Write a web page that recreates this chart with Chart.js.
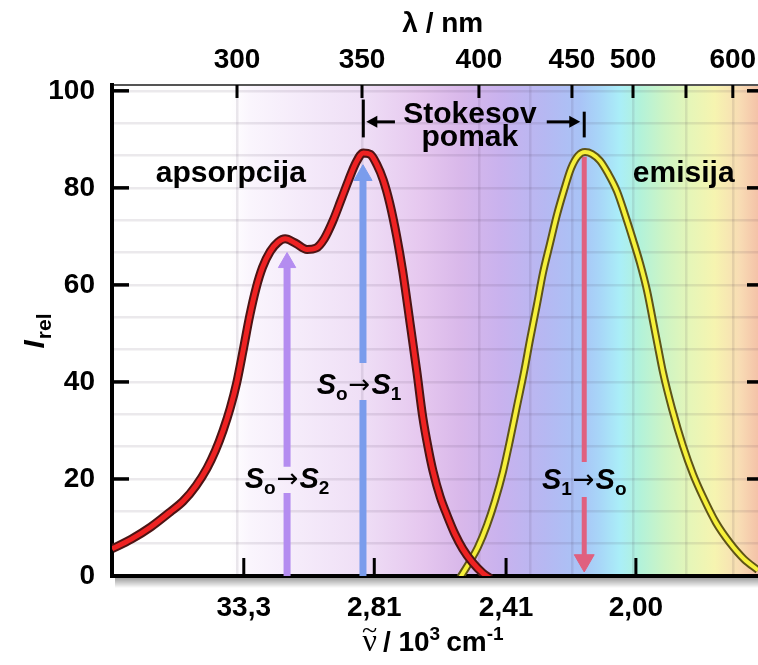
<!DOCTYPE html>
<html><head><meta charset="utf-8">
<script src="https://cdn.jsdelivr.net/npm/chart.js@4.4.1/dist/chart.umd.min.js"></script>
<style>html,body{margin:0;padding:0;background:#fff;}#wrap{width:758px;height:665px;}</style>
</head><body><div id="wrap"><canvas id="c" width="758" height="665"></canvas></div>
<script>
// ---- data (x in relative spectral position units, y = I_rel) ----
const absX = [0, 3, 6, 9, 11, 13, 14.7, 16, 17.2, 18.3, 19.3, 20.3, 21.3, 22.3, 23.3, 24.5, 25.7, 26.8, 28.4, 30.2, 31.6, 32.9, 34.2, 35.4, 36.6, 37.8, 38.9, 40.0, 41.0, 42.0, 43.0, 44.1, 45.0, 46.1, 47.2, 48.1, 49.0, 49.7, 50.8, 51.9, 53.1, 54.3, 55.8, 57.4, 58.6];
const absY = [5.6, 7.6, 10.1, 13.2, 15.4, 18.6, 22.2, 25.8, 30.0, 34.6, 39.8, 46.5, 53.5, 59.3, 63.6, 66.9, 68.8, 69.5, 68.6, 67.3, 67.6, 69.6, 73.2, 77.3, 81.5, 85.3, 87.2, 86.9, 84.8, 81.6, 76.8, 69.8, 62.8, 52.5, 42.0, 32.8, 26.0, 21.6, 16.3, 12.4, 8.6, 5.6, 2.8, 0.6, -0.5];
const emiX = [53.9, 55.42, 56.66, 58.05, 59.29, 60.53, 61.61, 62.69, 63.78, 64.71, 65.79, 66.72, 67.80, 68.89, 69.97, 71.05, 72.14, 73.22, 74.30, 75.54, 76.78, 78.17, 79.41, 80.65, 81.73, 82.82, 83.75, 84.52, 85.29, 86.69, 88.39, 89.94, 91.49, 93.50, 95.67, 97.83, 100];
const emiY = [-0.3, 3.0, 6.0, 10.5, 15.5, 21.5, 28, 35, 42, 48.7, 56, 62.5, 68.5, 74.5, 79.5, 84, 86.6, 87.4, 87, 85.6, 83, 79.3, 74.5, 69.3, 64.5, 58.8, 52.5, 47.2, 42, 34.5, 26.8, 21, 16.3, 11, 6.8, 3.5, 1.2];

const yTickValues = [0, 20, 40, 60, 80, 100];
const topTickValues = [19.35, 38.7, 56.8, 71.2, 80.65, 88.85, 96.1];
const topTickLabels = ['300', '350', '400', '450', '500', '', '600'];
const extraGridX = [64.7];
const bottomTickValues = [20.4, 40.6, 61.0, 81.1];
const bottomTickLabels = ['33,3', '2,81', '2,41', '2,00'];

// transitions (arrows)
const transitionNames = ['S0→S2', 'S0→S1', 'S1→S0'];
const arrowX = [27.1, 38.85, 73.1];
const arrowStart = [0, 0, 86.4];
const arrowGapA = [17.1, 36.3, 23.5];
const arrowGapB = [22.5, 43.9, 16.3];
const arrowHead = [64.6, 82.6, 3.2];

// ---- styling ----
const FAM = '"Liberation Sans", Arial, sans-serif';
const arrowColors = ['#b48cf0', '#7a9cec', '#e0607f'];
const arrowWidths = [7, 7, 5];
const headRadius = [10, 10.5, 11.5];
const headRotation = [0, 0, 180];
const spectrumStops = [[0,'#ffffff'],[18.3,'#ffffff'],[21.4,'#faf5fd'],[29.1,'#f5ebfa'],[38.7,'#efdff6'],[47.7,'#e6c8ef'],[53.9,'#d9b8ea'],[60.1,'#c9b2ee'],[67.0,'#b6b8f2'],[72.4,'#a9c3f6'],[75.5,'#a8d6f8'],[78.6,'#aaeef8'],[81.7,'#b2f2da'],[85.6,'#cef4c4'],[89.5,'#e6f6b8'],[93.3,'#f6f4b0'],[97.2,'#f8dcb4'],[100,'#f4c2a8']];

const yGrid = [];
for (let i = 0; i <= 15; i++) yGrid.push(i * 20 / 3);
const topAll = topTickValues.concat(extraGridX).sort((a,b)=>a-b);

const pts = (xs, ys) => xs.map((v,i)=>({x:v, y:ys[i]}));

const datasets = [
  {data: pts(absX, absY), borderColor:'#ee2222', borderWidth:5, order:0},
  {data: pts(absX, absY), borderColor:'#4c1414', borderWidth:9, order:1},
  {data: pts(emiX, emiY), borderColor:'#f6f03a', borderWidth:4, order:2},
  {data: pts(emiX, emiY), borderColor:'#5e5418', borderWidth:8, order:3}
].map(d => Object.assign(d, {type:'line', pointRadius:0, fill:false, cubicInterpolationMode:'monotone', clip:0}));

arrowX.forEach((ax, i) => {
  datasets.push({type:'line', order:10+i, data:[{x:ax,y:arrowStart[i]},{x:ax,y:arrowGapA[i]},{x:ax,y:null},{x:ax,y:arrowGapB[i]},{x:ax,y:arrowHead[i]}],
    borderColor:arrowColors[i], borderWidth:arrowWidths[i], pointRadius:0, spanGaps:false, fill:false, clip:0});
  datasets.push({type:'scatter', order:5+i, data:[{x:ax,y:arrowHead[i]}], pointStyle:'triangle', pointRadius:headRadius[i],
    pointRotation:headRotation[i], backgroundColor:arrowColors[i], borderColor:arrowColors[i], borderWidth:1, clip:false});
});

function partsWidth(ctx, parts) {
  let w = 0;
  parts.forEach(p => { ctx.font = p.f; w += ctx.measureText(p.t).width + (p.gap||0); });
  return w;
}
function drawParts(ctx, parts, cx, base) {
  let x = cx - partsWidth(ctx, parts)/2;
  parts.forEach(p => { ctx.font = p.f; ctx.fillText(p.t, x, base + (p.dy||0)); x += ctx.measureText(p.t).width + (p.gap||0); });
}
const S = 'italic bold 29px ' + FAM, SUB = 'bold 19px ' + FAM, ARR = '26px "DejaVu Sans", ' + FAM;
function transParts(a, b) {
  return [{t:'S',f:S},{t:a,f:SUB,dy:6,gap:1},{t:'→',f:ARR,dy:-1,gap:1},{t:'S',f:S},{t:b,f:SUB,dy:6}];
}
const transLabelY = [18.7, 38.2, 18.5];
const transLabelDX = [0, -4, 0];

const decor = {
  id:'decor',
  beforeDraw(chart) {
    const {ctx, chartArea:a, scales:{x}} = chart;
    const g = ctx.createLinearGradient(a.left,0,a.right,0);
    spectrumStops.forEach(([v,c]) => g.addColorStop(Math.min(1,Math.max(0,(x.getPixelForValue(v)-a.left)/(a.right-a.left))), c));
    ctx.save();
    ctx.fillStyle = g; ctx.fillRect(a.left, a.top, a.right-a.left, a.bottom-a.top);
    const sg = ctx.createLinearGradient(0, a.bottom, 0, a.bottom+12);
    sg.addColorStop(0,'rgba(0,0,0,0.45)'); sg.addColorStop(1,'rgba(0,0,0,0)');
    ctx.fillStyle = sg; ctx.fillRect(a.left+3, a.bottom, a.right-a.left, 12);
    ctx.restore();
  },
  afterDraw(chart) {
    const {ctx, chartArea:a, scales:{x, y}} = chart;
    ctx.save();
    ctx.strokeStyle = '#000'; ctx.fillStyle = '#000';
    // inward tick marks
    ctx.lineWidth = 3.5;
    yTickValues.forEach(v => { const py = y.getPixelForValue(v);
      ctx.beginPath(); ctx.moveTo(a.left, py); ctx.lineTo(a.left+17, py); ctx.stroke();
      ctx.beginPath(); ctx.moveTo(a.right-11, py); ctx.lineTo(a.right, py); ctx.stroke(); });
    ctx.lineWidth = 3;
    topTickValues.forEach(v => { const px = x.getPixelForValue(v);
      ctx.beginPath(); ctx.moveTo(px, a.top); ctx.lineTo(px, a.top+13); ctx.stroke(); });
    bottomTickValues.forEach(v => { const px = x.getPixelForValue(v);
      ctx.beginPath(); ctx.moveTo(px, a.bottom); ctx.lineTo(px, a.bottom-18); ctx.stroke(); });

    // Stokes shift
    const ia = absY.indexOf(Math.max(...absY));
    const pA = x.getPixelForValue(absX[ia]), pE = x.getPixelForValue(arrowX[2]);
    const yAr = y.getPixelForValue(93.6);
    ctx.lineWidth = 3;
    ctx.beginPath(); ctx.moveTo(pA, y.getPixelForValue(98.2)); ctx.lineTo(pA, y.getPixelForValue(90.4)); ctx.stroke();
    ctx.beginPath(); ctx.moveTo(pE, y.getPixelForValue(95.7)); ctx.lineTo(pE, y.getPixelForValue(90.4)); ctx.stroke();
    const l1 = x.getPixelForValue(43.8), r0 = x.getPixelForValue(67.3);
    ctx.beginPath(); ctx.moveTo(pA+12, yAr); ctx.lineTo(l1, yAr); ctx.stroke();
    ctx.beginPath(); ctx.moveTo(pA+3, yAr); ctx.lineTo(pA+14, yAr-6); ctx.lineTo(pA+14, yAr+6); ctx.closePath(); ctx.fill();
    ctx.beginPath(); ctx.moveTo(r0, yAr); ctx.lineTo(pE-14, yAr); ctx.stroke();
    ctx.beginPath(); ctx.moveTo(pE-4, yAr); ctx.lineTo(pE-15, yAr-6); ctx.lineTo(pE-15, yAr+6); ctx.closePath(); ctx.fill();

    ctx.textAlign = 'center'; ctx.textBaseline = 'alphabetic';
    ctx.font = 'bold 30px ' + FAM;
    const cS = x.getPixelForValue(55.4);
    ctx.fillText('Stokesov', cS, y.getPixelForValue(93.3));
    ctx.fillText('pomak', cS, y.getPixelForValue(88.6));
    ctx.fillText('apsorpcija', x.getPixelForValue(18.4), y.getPixelForValue(81.3));
    ctx.fillText('emisija', x.getPixelForValue(88.5), y.getPixelForValue(81.3));

    // transition labels
    ctx.textAlign = 'left';
    const subs = [['o','2'],['o','1'],['1','o']];
    arrowX.forEach((ax, i) => {
      drawParts(ctx, transParts(subs[i][0], subs[i][1]), x.getPixelForValue(ax) + transLabelDX[i], y.getPixelForValue(transLabelY[i]) + 3);
    });

    // axis titles
    drawParts(ctx, [{t:'λ / nm', f:'bold 28px ' + FAM}], a.left + (a.right-a.left)*0.512, 32);
    const bParts = [{t:'ν', f:'32px "Liberation Serif", serif', gap:6},{t:'/ 10', f:'bold 28px ' + FAM},{t:'3', f:'bold 19px ' + FAM, dy:-11, gap:6},{t:'cm', f:'bold 28px ' + FAM},{t:'-1', f:'bold 19px ' + FAM, dy:-11}];
    const bCx = 433, bBase = 651;
    const bx0 = bCx - partsWidth(ctx, bParts)/2;
    drawParts(ctx, bParts, bCx, bBase);
    ctx.font = '32px "Liberation Serif", serif';
    const nuW = ctx.measureText('ν').width;
    ctx.font = '28px "Liberation Serif", serif';
    ctx.textAlign = 'center';
    ctx.fillText('~', bx0 + nuW/2, bBase - 12);
    // y title
    ctx.save();
    ctx.translate(33, 331); ctx.rotate(-Math.PI/2);
    ctx.textAlign = 'left';
    drawParts(ctx, [{t:'I', f:'italic bold 30px ' + FAM, gap:1},{t:'rel', f:'bold 21px ' + FAM, dy:7}], 0, 11);
    ctx.restore();
    ctx.restore();
  }
};

const tickFont = {family: FAM, size: 28, weight: 'bold', lineHeight: 1};
new Chart(document.getElementById('c'), {
  data: {datasets},
  options: {
    responsive:false, animation:false, devicePixelRatio:1,
    layout:{padding:0, autoPadding:false},
    plugins:{legend:{display:false}, tooltip:{enabled:false}},
    scales:{
      x:{type:'linear', position:'bottom', min:0, max:100,
        afterBuildTicks: s => { s.ticks = bottomTickValues.map(v => ({value:v})); },
        ticks:{autoSkip:false, maxRotation:0, color:'#000', font:tickFont, padding:18,
          callback:(v,i) => bottomTickLabels[i]},
        grid:{display:false, drawTicks:false},
        border:{display:true, color:'#000', width:4},
        afterFit: s => { s.height = 89; s.paddingLeft = 0; s.paddingRight = 0; }},
      x2:{type:'linear', position:'top', min:0, max:100,
        afterBuildTicks: s => { s.ticks = topAll.map(v => ({value:v})); },
        ticks:{autoSkip:false, maxRotation:0, color:'#000', font:tickFont, padding:11,
          callback:(v) => { const k = topTickValues.indexOf(v); return k >= 0 ? topTickLabels[k] : ''; }},
        grid:{display:true, drawTicks:false, color:'rgba(60,40,70,0.10)', lineWidth:2.5},
        border:{display:true, color:'#555', width:2},
        afterFit: s => { s.height = 85; s.paddingLeft = 0; s.paddingRight = 0; }},
      y:{type:'linear', position:'left', min:0, max:101.2,
        afterBuildTicks: s => { s.ticks = yGrid.map(v => ({value:v})); },
        ticks:{autoSkip:false, color:'#000', font:tickFont, padding:17,
          callback:(v,i) => (i % 3 === 0 ? String(i/3*20) : '')},
        grid:{display:true, drawTicks:false, color:'rgba(60,40,70,0.10)', lineWidth:2.5},
        border:{display:true, color:'#000', width:4},
        afterFit: s => { s.width = 112; s.paddingTop = 0; s.paddingBottom = 0; }}
    }
  },
  plugins:[decor]
});
</script></body></html>
